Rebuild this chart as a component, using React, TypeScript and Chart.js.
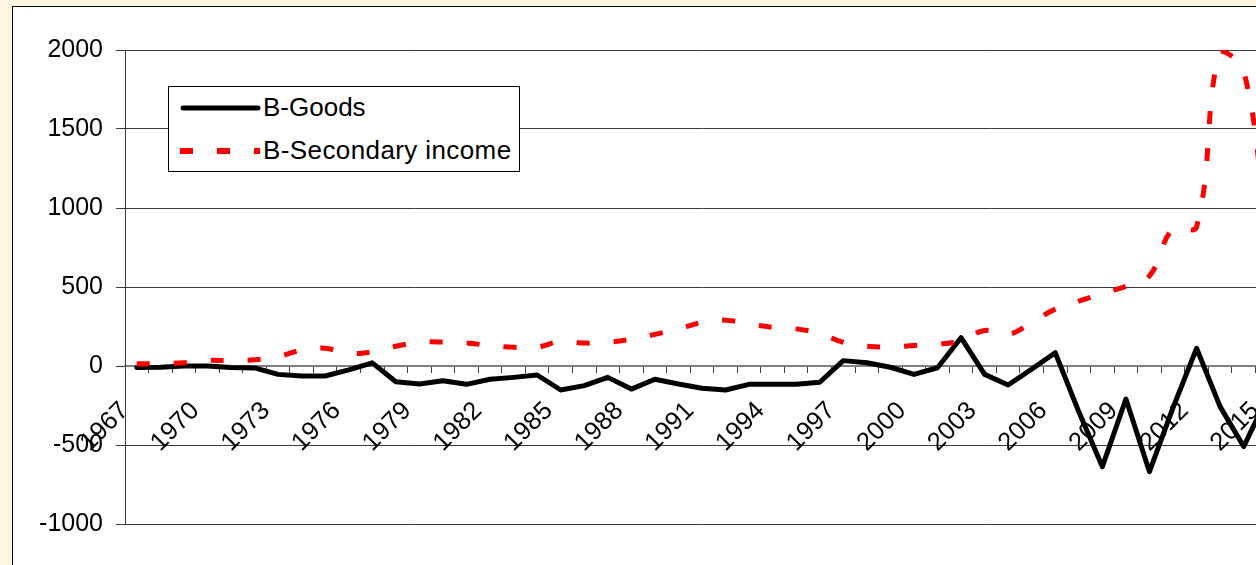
import React, { useEffect, useRef } from 'react';
import { Chart, registerables } from 'chart.js';

Chart.register(...registerables);

const years = [
  '1967', '1968', '1969', '1970', '1971', '1972', '1973', '1974', '1975', '1976',
  '1977', '1978', '1979', '1980', '1981', '1982', '1983', '1984', '1985', '1986',
  '1987', '1988', '1989', '1990', '1991', '1992', '1993', '1994', '1995', '1996',
  '1997', '1998', '1999', '2000', '2001', '2002', '2003', '2004', '2005', '2006',
  '2007', '2008', '2009', '2010', '2011', '2012', '2013', '2014', '2015',
];

const goods = [
  -10, -8, 0, 0, -10, -12, -53, -63, -63, -25,
  20, -100, -114, -93, -116, -84, -72, -57, -152, -124,
  -72, -146, -84, -114, -141, -152, -116, -116, -116, -103,
  34, 21, -8, -53, -11, 179, -53, -120, -20, 84,
  -290, -637, -209, -669, -264, 112, -257, -510, -200,
];

const secondaryIncome = [
  15, 15, 20, 35, 35, 40, 60, 100, 112, 80,
  90, 125, 150, 152, 145, 130, 118, 120, 155, 145,
  150, 170, 200, 235, 275, 290, 265, 245, 235, 205,
  150, 125, 120, 130, 138, 160, 225, 200, 275, 360,
  410, 460, 505, 570, 870, 880, 1990, 1870, 780,
];

const seriesNames = ['B-Goods', 'B-Secondary income'];
const yTicks = [-1000, -500, 0, 500, 1000, 1500, 2000];

const FONT = '"Liberation Sans", Arial, sans-serif';
const CREAM = '#fdf5e2';

export default function App() {
  const ref = useRef<HTMLCanvasElement | null>(null);

  useEffect(() => {
    if (!ref.current) return;
    const chart = new Chart(ref.current, {
      type: 'line',
      data: {
        labels: years,
        datasets: [
          {
            label: seriesNames[0],
            data: goods,
            borderColor: '#000000',
            backgroundColor: '#000000',
            borderWidth: 5,
            pointRadius: 0,
            tension: 0,
            borderJoinStyle: 'round',
            borderCapStyle: 'round',
            order: 1,
          },
          {
            label: seriesNames[1],
            data: secondaryIncome,
            borderColor: '#ff0000',
            backgroundColor: '#ff0000',
            borderWidth: 5,
            borderDash: [13, 24],
            pointRadius: 0,
            tension: 0.4,
            borderCapStyle: 'butt',
            order: 0,
          },
        ],
      },
      options: {
        animation: false,
        responsive: false,
        maintainAspectRatio: false,
        layout: { padding: { left: 0, top: 43, right: 0, bottom: 0 } },
        plugins: {
          legend: { display: false },
          tooltip: { enabled: false },
        },
        scales: {
          x: {
            type: 'category',
            position: { y: 0 },
            offset: true,
            afterFit: (scale: any) => {
              scale.height = 23;
              scale.paddingRight = 0;
            },
            grid: {
              offset: true,
              drawOnChartArea: false,
              drawTicks: true,
              tickLength: 6,
              color: '#404040',
            },
            border: { display: true, color: '#808080', width: 2 },
            ticks: {
              autoSkip: false,
              minRotation: 45,
              maxRotation: 45,
              padding: 24,
              labelOffset: -12,
              color: '#000000',
              font: { family: FONT, size: 25.5 },
              callback: function (this: any, _v: any, index: number) {
                return index % 3 === 0 ? years[index] : '';
              },
            },
          },
          y: {
            min: yTicks[0],
            max: yTicks[yTicks.length - 1],
            afterFit: (scale: any) => {
              scale.width = 112;
            },
            afterBuildTicks: (scale: any) => {
              scale.ticks = yTicks.map((v) => ({ value: v }));
            },
            grid: {
              color: (ctx: any) => (ctx.tick && ctx.tick.value === 0 ? 'rgba(0,0,0,0)' : '#3a3a3a'),
              lineWidth: 1,
              drawTicks: true,
              tickLength: 9,
              tickColor: '#3a3a3a',
            },
            border: { display: true, color: '#3a3a3a', width: 1 },
            ticks: {
              padding: 13,
              color: '#000000',
              font: { family: FONT, size: 25 },
              callback: (v: any) => String(v),
            },
          },
        },
      },
    });
    return () => chart.destroy();
  }, []);

  return (
    <div
      style={{
        position: 'fixed',
        left: 0,
        top: 0,
        width: 1256,
        height: 565,
        overflow: 'hidden',
        background: CREAM,
      }}
    >
      <div
        style={{
          position: 'absolute',
          left: 12,
          top: 6,
          width: 1400,
          height: 700,
          background: '#ffffff',
          border: '1px solid #000000',
        }}
      />
      <canvas
        ref={ref}
        width={1266}
        height={545}
        style={{ position: 'absolute', left: 13, top: 7, width: 1266, height: 545 }}
      />
      <div
        style={{
          position: 'absolute',
          left: 168,
          top: 86,
          width: 352,
          height: 86,
          boxSizing: 'border-box',
          border: '1px solid #000000',
          background: '#ffffff',
          fontFamily: FONT,
          fontSize: 26,
          color: '#000000',
        }}
      >
        <svg
          width={90}
          height={84}
          style={{ position: 'absolute', left: 4, top: 0 }}
        >
          <line x1={10} y1={21} x2={85} y2={21} stroke="#000000" strokeWidth={5} strokeLinecap="round" />
          <line x1={7} y1={64} x2={87} y2={64} stroke="#ff0000" strokeWidth={6} strokeDasharray="13 24" />
        </svg>
        <div style={{ position: 'absolute', left: 94, top: 4, lineHeight: '32px', whiteSpace: 'nowrap' }}>
          {seriesNames[0]}
        </div>
        <div style={{ position: 'absolute', left: 94, top: 47, lineHeight: '32px', whiteSpace: 'nowrap', letterSpacing: '0.4px' }}>
          {seriesNames[1]}
        </div>
      </div>
    </div>
  );
}
